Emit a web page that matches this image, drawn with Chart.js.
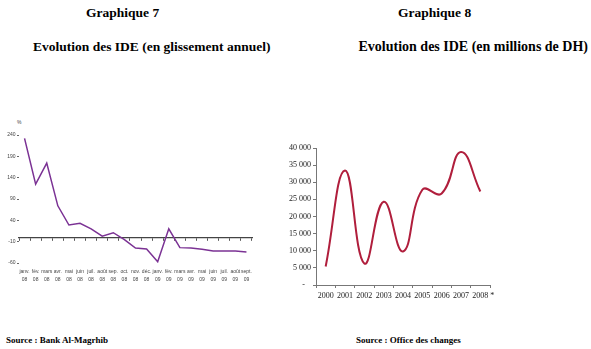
<!DOCTYPE html>
<html><head><meta charset="utf-8">
<script src="https://cdn.jsdelivr.net/npm/chart.js@4.4.0/dist/chart.umd.min.js"></script>
<style>
html,body{margin:0;padding:0;background:#fff;width:591px;height:349px;overflow:hidden;position:relative;}
.t{position:absolute;font-family:'Liberation Serif','Times New Roman',serif;font-weight:bold;color:#000;white-space:nowrap;line-height:1;}
#c1{position:absolute;left:0;top:120px;}
#c2{position:absolute;left:270px;top:130px;}
</style></head><body>
<div class="t" style="left:86px;top:6px;font-size:13.5px">Graphique 7</div>
<div class="t" style="left:398px;top:6px;font-size:13.5px">Graphique 8</div>
<div class="t" style="left:33px;top:40px;font-size:13.5px">Evolution des IDE (en glissement annuel)</div>
<div class="t" style="right:3px;top:40px;font-size:14px">Evolution des IDE (en millions de DH)</div>
<div class="t" style="left:6px;top:336px;font-size:9px">Source : Bank Al-Magrhib</div>
<div class="t" style="left:356px;top:336px;font-size:9px">Source : Office des changes</div>
<div style="position:absolute;left:17px;top:119px;font:5px 'Liberation Sans',sans-serif;color:#444">%</div>
<canvas id="c1" width="262" height="170"></canvas>
<canvas id="c2" width="240" height="180"></canvas>
<script>
// Graphique 7 data
const months = [["janv.","08"],["fév.","08"],["mars","08"],["avr.","08"],["mai","08"],["juin","08"],["juil.","08"],["août","08"],["sep.","08"],["oct.","08"],["nov.","08"],["déc.","08"],["janv.","09"],["fév.","09"],["mars","09"],["avr.","09"],["mai","09"],["juin","09"],["juil.","09"],["août","09"],["sept.","09"]];
const ideGlissement = [232,125,174,74,29,33,20,3,11,-5,-25,-27,-57,20,-24,-25,-28,-32,-32,-32,-34];
const yTicks7 = [-60,-10,40,90,140,190,240];

// Graphique 8 data
const years = ["2000","2001","2002","2003","2004","2005","2006","2007","2008 *"];
const ideMillions = [5400,33400,6300,24300,9800,27800,26700,38800,27300];
const yTicks8 = [0,5000,10000,15000,20000,25000,30000,35000,40000];

const sans = "'Liberation Sans Narrow','Liberation Sans',Arial,sans-serif";
const serif = "'Liberation Serif','Times New Roman',serif";

new Chart(document.getElementById('c1'), {
  type: 'line',
  data: { labels: months, datasets: [{ data: ideGlissement, borderColor: '#7B3294', borderWidth: 1.5, pointRadius: 0, tension: 0, fill: false, xAxisID: 'x', yAxisID: 'y' }] },
  options: {
    responsive: false, devicePixelRatio: 1, animation: false,
    layout: { padding: { top: 15, right: 10, left: 0, bottom: 0 } },
    plugins: { legend: { display: false }, tooltip: { enabled: false } },
    scales: {
      y: {
        min: -60, max: 240,
        afterBuildTicks: s => { s.ticks = yTicks7.map(v => ({ value: v })); },
        afterFit: s => { s.width = 19; },
        grid: { drawOnChartArea: false, drawTicks: true, tickLength: 2, color: '#666' },
        border: { display: false },
        ticks: { font: { family: sans, size: 5 }, color: '#444', padding: 1.5 }
      },
      x: {
        type: 'category', position: 'bottom', offset: true,
        afterFit: s => { s.height = 27; },
        grid: { display: false, drawTicks: false },
        border: { display: false },
        ticks: { font: { family: sans, size: 5, lineHeight: 1.5 }, color: '#444', padding: 5, maxRotation: 0, autoSkip: false }
      },
      x0: {
        type: 'category', position: { y: 0 }, offset: true,
        grid: { drawOnChartArea: false, drawTicks: true, tickLength: 2.5, color: '#555', offset: true },
        border: { display: true, color: '#444', width: 1.3 },
        ticks: { display: false }
      }
    }
  }
});

new Chart(document.getElementById('c2'), {
  type: 'line',
  data: { labels: years, datasets: [{ data: ideMillions, borderColor: '#B01E3C', borderWidth: 2, pointRadius: 0, tension: 0.45, fill: false }] },
  options: {
    responsive: false, devicePixelRatio: 1, animation: false,
    layout: { padding: { top: 18, right: 20, left: 0, bottom: 0 } },
    plugins: { legend: { display: false }, tooltip: { enabled: false } },
    scales: {
      y: {
        min: 0, max: 40000,
        afterBuildTicks: s => { s.ticks = yTicks8.map(v => ({ value: v })); },
        afterFit: s => { s.width = 46; },
        grid: { drawOnChartArea: false, drawTicks: true, tickLength: 3, color: '#777' },
        border: { display: true, color: '#777', width: 1 },
        ticks: {
          font: { family: serif, size: 8 }, color: '#222', padding: 2,
          callback: v => v === 0 ? '-   ' : String(v).replace(/\B(?=(\d{3})+(?!\d))/g, ' ')
        }
      },
      x: {
        offset: true,
        afterFit: s => { s.height = 25; },
        grid: { drawOnChartArea: false, drawTicks: true, tickLength: 3, color: '#777', offset: true },
        border: { display: true, color: '#777', width: 1 },
        ticks: {
          font: { family: serif, size: 8 }, color: '#222', padding: 3, maxRotation: 0, autoSkip: false,
          callback: function (v) { const l = this.getLabelForValue(v); return / \*$/.test(l) ? '   ' + l : l; }
        }
      }
    }
  }
});
</script>
</body></html>
